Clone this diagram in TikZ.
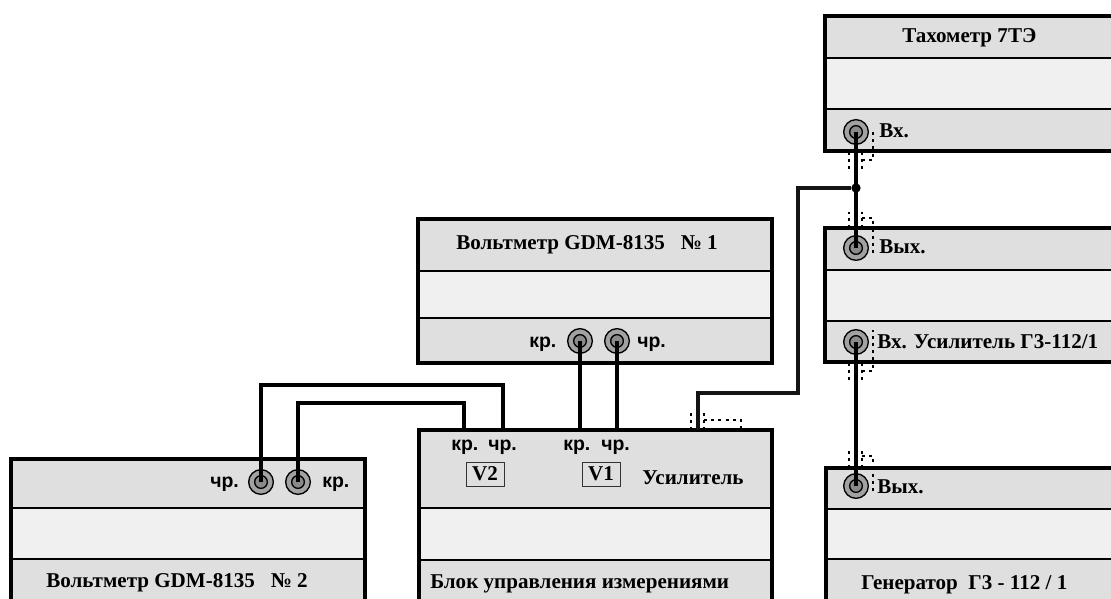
\documentclass[tikz,border=0pt]{standalone}
\usepackage{fontspec}
\setmainfont{Liberation Serif}
\setsansfont{Liberation Sans}
\usepackage{xcolor}
\usetikzlibrary{positioning}
\definecolor{bandgray}{HTML}{DFDFDF}
\definecolor{palegray}{HTML}{F0F0F0}
\definecolor{jackgray}{HTML}{A2A2A2}
\tikzset{
  band/.style={rectangle, draw=black, line width=1.7pt, inner sep=0pt, outer sep=0pt},
  frame/.style={rectangle, draw=black, line width=3pt, inner sep=0pt, outer sep=0pt},
  title/.style={anchor=base west, inner sep=0pt, font=\bfseries\fontsize{15.8}{18}\selectfont},
  pin/.style={anchor=base west, inner sep=0pt, font=\sffamily\bfseries\fontsize{14.6}{17}\selectfont},
  tag/.style={rectangle, draw=black!80, line width=0.7pt, fill=bandgray, inner sep=0pt, outer sep=0pt,
              minimum width=28.5pt, minimum height=18pt, font=\bfseries\fontsize{15.8}{18}\selectfont},
  jack/.style={circle, draw=black, line width=1pt, fill=jackgray, inner sep=0pt, minimum size=18.5pt},
  ring/.style={circle, draw=black, line width=1pt, fill=jackgray!85!black, inner sep=0pt, minimum size=9.5pt},
  wire/.style={line width=3pt, draw=black, line join=miter},
  thinwire/.style={line width=2.5pt, draw=black!92, line join=miter},
  plug/.style={line width=2pt, draw=black, dash pattern=on 2.2pt off 3.2pt},
  joint/.style={circle, fill=black, inner sep=0pt, minimum size=7pt},
}
\begin{document}
\begin{tikzpicture}[x=0.75pt, y=-0.75pt]

  \useasboundingbox (0,0) rectangle (1111,599);
  \clip (0,0) rectangle (1111,599);

  %% devices, each one three bands and an outer frame
  \foreach \nm/\xa/\xb/\ya/\yb/\yc/\yd in {
    tach/825/1130/16/58/109/151,
    gout/825/1130/228/270/321/362,
    gen/826/1130/468/509/559/620,
    vma/418/772/219/271/318/363,
    ctrl/419/772/430/508/560/620,
    vmb/11/365/459/508/559/620}
  {
    \node[band, fill=bandgray, minimum width={(\xb-\xa)*0.75pt}, minimum height={(\yb-\ya)*0.75pt}]
      (\nm top) at ({(\xa+\xb)/2}, {(\ya+\yb)/2}) {};
    \node[band, fill=palegray, minimum width={(\xb-\xa)*0.75pt}, minimum height={(\yc-\yb)*0.75pt}]
      (\nm mid) at ({(\xa+\xb)/2}, {(\yb+\yc)/2}) {};
    \node[band, fill=bandgray, minimum width={(\xb-\xa)*0.75pt}, minimum height={(\yd-\yc)*0.75pt}]
      (\nm low) at ({(\xa+\xb)/2}, {(\yc+\yd)/2}) {};
    \node[frame, minimum width={(\xb-\xa)*0.75pt}, minimum height={(\yd-\ya)*0.75pt}]
      (\nm) at ({(\xa+\xb)/2}, {(\ya+\yd)/2}) {};
  }

  %% jacks
  \foreach \nm/\cx/\cy in {
    jkTach/856/132, jkOut/856/248, jkAmp/856/342, jkGen/856/486,
    jkVa/580/341, jkVb/617/341, jkVc/261/482, jkVd/298/482}
  {
    \node[jack] (\nm) at (\cx, \cy) {};
    \node[ring] (\nm r) at (\cx, \cy) {};
  }

  %% socket points on the control unit
  \coordinate (ctrlA) at (464, 430);
  \coordinate (ctrlB) at (503, 430);
  \coordinate (ctrlC) at (580, 430);
  \coordinate (ctrlD) at (617, 430);
  \coordinate (ctrlE) at (698, 430);
  \node[joint] (tee) at (856, 188) {};

  %% Wires
  \draw[wire] (jkVa.center) -- (ctrlC);
  \draw[wire] (jkVb.center) -- (ctrlD);
  \draw[wire] (jkVc.center) |- (385, 385) -| (ctrlB);
  \draw[wire] (jkVd.center) |- (403, 403) -| (ctrlA);
  \draw[wire] (jkTach.center) -- (jkOut.center);
  \draw[wire] (jkAmp.center) -- (jkGen.center);
  \draw[thinwire] (ctrlE) |- (798, 393) |- (tee);

  %% Plug outlines
  \foreach \xp/\ya/\yb/\yc/\yd in {
    856/152/172/160/130, 856/228/212/218/256,
    856/363/381/371/330, 856/468/450/456/492}
  {
    \draw[plug] (\xp-7, \ya) -- (\xp-7, \yb);
    \draw[plug] (\xp+6, \ya) -- (\xp+6, \yb);
    \draw[plug] (\xp+6, \yc) -- (\xp+17, \yc) -- (\xp+17, \yd);
  }
  \draw[plug] (691, 430) -- (691, 412);
  \draw[plug] (704, 430) -- (704, 412);
  \draw[plug] (704, 420) -- (741, 420) -- (741, 433);

  %% Labels
  \node[title] (lblTach) at (902, 43) {Тахометр 7ТЭ};
  \node[title] (lblTachIn) at (879, 138) {Вх.};
  \node[title] (lblOut) at (879, 253) {Вых.};
  \node[title] (lblAmp) at (877, 349) {Вх. Усилитель Г3-112/1};
  \node[title] (lblGen) at (877, 493) {Вых.};
  \node[title] (lblGenName) at (861, 589) {Генератор\ \ Г3 - 112 / 1};
  \node[title] (lblVa) at (456, 250) {Вольтметр GDM-8135\ \ \ № 1};
  \node[title] (lblVb) at (46, 587) {Вольтметр GDM-8135\ \ \ № 2};
  \node[title] (lblCtrl) at (430, 588) {Блок управления измерениями};
  \node[title] (lblUs) at (642, 484) {Усилитель};

  \foreach \nm/\px/\py/\txt in {
    pa/529/347/кр., pb/637/347/чр., pc/210/487/чр., pd/322/487/кр.,
    pe/451/450/кр., pf/488/450/чр., pg/563/450/кр., ph/601/450/чр.}
  {
    \node[pin] (\nm) at (\px, \py) {\txt};
  }

  \node[tag] (tagV2) at (485, 474) {V2};
  \node[tag] (tagV1) at (601, 474) {V1};

\end{tikzpicture}
\end{document}
